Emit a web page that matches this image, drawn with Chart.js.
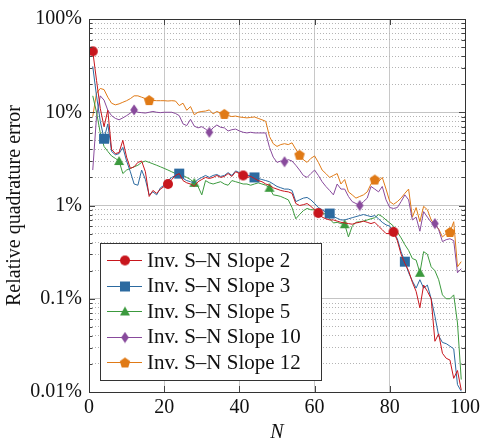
<!DOCTYPE html>
<html>
<head>
<meta charset="utf-8">
<script src="https://cdn.jsdelivr.net/npm/chart.js@4.4.0/dist/chart.umd.min.js"></script>
<style>
  html, body { margin: 0; padding: 0; background: #fff; }
</style>
</head>
<body>
<canvas id="chart" width="488" height="448"></canvas>
<script>
// N = 1..99 (number of modes)
const nValues = Array.from({ length: 99 }, (_, i) => i + 1);

// relative quadrature error in percent
const slope2 = [45, 22, 11, 7, 10.5, 4, 3.6, 3.7, 5, 3.3,
  2.5, 2.6, 2.9, 3.0, 2.3, 1.25, 1.45, 1.35, 1.5, 1.6,
  1.7, 1.9, 2.1, 2.2, 1.85, 1.75, 1.7, 1.6, 1.8, 1.9,
  2.0, 1.95, 2.0, 2.1, 2.0, 2.05, 2.2, 2.05, 2.3, 2.2,
  2.1, 2.0, 2.05, 1.95, 1.85, 1.8, 1.7, 1.65, 1.55, 1.5,
  1.45, 1.42, 1.4, 1.35, 1.05, 1.0, 1.02, 1.05, 0.98, 0.9,
  0.83, 0.75, 0.72, 0.7, 0.7, 0.68, 0.66, 0.65, 0.64, 0.63,
  0.65, 0.66, 0.68, 0.66, 0.64, 0.66, 0.6, 0.55, 0.5, 0.5,
  0.52, 0.42, 0.3, 0.24, 0.2, 0.15, 0.12, 0.08, 0.14, 0.12,
  0.1, 0.035, 0.042, 0.026, 0.023, 0.022, 0.014, 0.017, 0.0105];

const slope3 = [31, 15, 8, 5.2, 7.5, 3.8, 3.5, 3.6, 4.2, 3.0,
  2.3, 1.7, 1.65, 2.4, 1.9, 1.3, 1.4, 1.3, 1.55, 1.65,
  1.85, 2.0, 2.1, 2.2, 1.95, 1.85, 1.8, 1.75, 1.9, 2.0,
  2.1, 2.0, 2.1, 2.15, 2.05, 2.1, 2.25, 2.1, 2.35, 2.25,
  2.2, 2.1, 2.1, 2.0, 1.95, 1.9, 1.85, 1.8, 1.7, 1.6,
  1.55, 1.5, 1.5, 1.45, 1.1, 1.15, 1.2, 1.22, 1.15, 1.05,
  0.95, 0.9, 0.85, 0.82, 0.76, 0.73, 0.7, 0.7, 0.72, 0.74,
  0.76, 0.78, 0.8, 0.78, 0.76, 0.78, 0.72, 0.66, 0.62, 0.6,
  0.52, 0.44, 0.32, 0.25, 0.19, 0.155, 0.13, 0.16, 0.13, 0.14,
  0.1, 0.065, 0.04, 0.034, 0.033, 0.031, 0.029, 0.012, 0.0102];

const slope5 = [15, 10, 6, 4.3, 3.8, 3.4, 3.2, 3.0, 2.2, 2.4,
  2.5, 2.6, 2.7, 2.9, 3.0, 2.9, 2.8, 2.7, 2.6, 2.5,
  2.4, 2.3, 2.2, 2.15, 2.1, 2.0, 1.9, 1.75, 1.6, 1.3,
  1.85, 1.75, 1.7, 1.75, 1.8, 1.7, 1.65, 1.85, 1.8, 1.75,
  1.7, 1.7, 1.65, 1.7, 1.75, 1.7, 1.65, 1.55, 1.3, 1.28,
  1.25, 1.2, 1.15, 0.95, 0.72, 0.8, 0.88, 0.93, 0.9, 0.9,
  0.88, 0.84, 0.8, 0.72, 0.65, 0.66, 0.64, 0.63, 0.46, 0.6,
  0.66, 0.67, 0.68, 0.7, 0.72, 0.74, 0.8, 0.76, 0.7, 0.65,
  0.6, 0.52, 0.45, 0.38, 0.33, 0.27, 0.26, 0.19, 0.32, 0.3,
  0.22, 0.2, 0.16, 0.11, 0.1, 0.1, 0.11, 0.055, 0.0136];

const slope10 = [2.4, 9, 15, 13.5, 10.5, 9.2, 8.6, 8.3, 8.7, 9.2,
  9.8, 10.6, 10, 9.9, 9.8, 10, 10.2, 10, 9.9, 10,
  10, 10, 9.7, 9.2, 7.5, 7.2, 8.4, 7.1, 6.8, 7,
  6.6, 6.1, 6.8, 7.3, 6.9, 6.8, 6.3, 6.5, 6.6, 6.3,
  6.1, 6.0, 6.1, 6.0, 6.0, 6.0, 6.0, 4.2, 3.3, 2.9,
  3.0, 2.95, 3.1, 3.0, 2.7, 2.4, 2.1, 2.0, 2.2, 2.4,
  2.1, 1.8, 1.6, 1.45, 1.3, 1.7, 1.5, 1.5, 1.25, 1.1,
  1.05, 1.0, 1.1, 1.2, 1.6, 1.5, 1.4, 1.6, 1.15, 0.95,
  0.93, 0.95, 1.1, 1.3, 1.15, 0.7, 0.75, 0.53, 0.86, 0.75,
  0.66, 0.64, 0.55, 0.41, 0.43, 0.44, 0.42, 0.19, 0.21];

const slope12 = [9, 16, 18, 17.5, 14.5, 12.5, 12, 12.3, 12.8, 13.3,
  14, 15, 15, 14.5, 14, 13.5, 13.4, 13.3, 13.3, 13.3,
  13.2, 13.3, 13.2, 11.8, 12.5, 10.5, 11.5, 9.4, 10, 10.2,
  10.3, 10.6, 9.6, 10.2, 9.8, 9.6, 9.2, 9.0, 9.1, 8.9,
  8.8, 8.7, 8.8, 8.9, 8.6, 8.3, 8.0, 5.5, 4.6, 4.3,
  4.5, 4.6, 4.5, 4.7, 4.0, 3.5, 3.1, 2.9, 3.2, 3.4,
  2.9, 2.4, 2.2, 2.0, 2.1, 2.2, 1.7, 1.9, 1.4, 1.3,
  1.2, 1.25, 1.3, 1.4, 1.7, 1.9, 1.8, 2.0, 1.5, 1.1,
  1.03, 1.1, 1.2, 1.35, 1.5, 0.75, 0.95, 0.67, 0.98, 0.9,
  0.7, 0.62, 0.56, 0.46, 0.5, 0.52, 0.67, 0.22, 0.25];

const seriesNames = ['Inv. S\u2013N Slope 2', 'Inv. S\u2013N Slope 3', 'Inv. S\u2013N Slope 5',
  'Inv. S\u2013N Slope 10', 'Inv. S\u2013N Slope 12'];

const xTicks = [0, 20, 40, 60, 80, 100];
const yDecades = [0.01, 0.1, 1, 10, 100];
const yTickLabels = ['0.01%', '0.1%', '1%', '10%', '100%'];

const FONT = "'Liberation Serif', 'DejaVu Serif', serif";

// every decade plus the minor 2..9 steps
const yTickValues = [];
yDecades.forEach((d, i) => {
    if (i === yDecades.length - 1) { yTickValues.push(d); return; }
    for (let m = 1; m <= 9; m++) yTickValues.push(d * m);
});

function decadeIndex(v) {
    return yDecades.findIndex(d => Math.abs(v - d) / d < 1e-6);
}

// pgfplots-like marks drawn on small canvases
function makeMarker(shape, color) {
    const size = 12;
    const c = document.createElement('canvas');
    c.width = size; c.height = size;
    const g = c.getContext('2d');
    const m = size / 2;
    g.fillStyle = color;
    g.beginPath();
    if (shape === 'circle') {
        g.arc(m, m, 5, 0, Math.PI * 2);
    } else if (shape === 'square') {
        g.rect(1, 1, 10, 10);
    } else if (shape === 'triangle') {
        g.moveTo(m, 1); g.lineTo(m + 5, 10); g.lineTo(m - 5, 10);
    } else if (shape === 'diamond') {
        g.moveTo(m, 0.5); g.lineTo(m + 3.8, m); g.lineTo(m, size - 0.5); g.lineTo(m - 3.8, m);
    } else if (shape === 'pentagon') {
        for (let k = 0; k < 5; k++) {
            const a = -Math.PI / 2 + k * 2 * Math.PI / 5;
            const px = m + 5.5 * Math.cos(a), py = m + 0.5 + 5.5 * Math.sin(a);
            if (k === 0) g.moveTo(px, py); else g.lineTo(px, py);
        }
    }
    g.closePath();
    g.fill();
    return c;
}

const colors = ['#c8161d', '#2c6aa0', '#3c9a3e', '#884a9c', '#e07a16'];
const shapes = ['circle', 'square', 'triangle', 'diamond', 'pentagon'];
const markPhase = [0, 3, 7, 11, 15];
const allSeries = [slope2, slope3, slope5, slope10, slope12];

const datasets = allSeries.map((vals, i) => {
    const marker = makeMarker(shapes[i], colors[i]);
    return {
        label: seriesNames[i],
        data: vals.map((v, j) => ({ x: nValues[j], y: v })),
        borderColor: colors[i],
        backgroundColor: colors[i],
        borderWidth: 1,
        tension: 0,
        fill: false,
        pointStyle: marker,
        marker: marker,
        pointRadius: ctx => (ctx.dataIndex % 20 === markPhase[i] ? 5 : 0),
        pointHoverRadius: 0
    };
});

// legend box inside the plot, lower left
const insideLegend = {
    id: 'insideLegend',
    afterDraw(chart) {
        const ctx = chart.ctx;
        const area = chart.chartArea;
        const x0 = area.left + 11, y0 = area.bottom - 149, w = 221, h = 137;
        ctx.save();
        ctx.fillStyle = '#fff';
        ctx.fillRect(x0, y0, w, h);
        ctx.strokeStyle = '#333';
        ctx.lineWidth = 1;
        ctx.strokeRect(x0 + 0.5, y0 + 0.5, w, h);
        ctx.font = '21px ' + FONT;
        ctx.textBaseline = 'middle';
        ctx.textAlign = 'left';
        chart.data.datasets.forEach((ds, i) => {
            const cy = y0 + 17 + i * 25.5;
            ctx.strokeStyle = ds.borderColor;
            ctx.beginPath();
            ctx.moveTo(x0 + 7, Math.round(cy) + 0.5);
            ctx.lineTo(x0 + 42, Math.round(cy) + 0.5);
            ctx.stroke();
            ctx.drawImage(ds.marker, x0 + 25 - 6, Math.round(cy) - 5.5);
            ctx.fillStyle = '#111';
            ctx.fillText(ds.label, x0 + 47, cy + 1);
        });
        ctx.restore();
    }
};

// axis frame and inward ticks
const frameTicks = {
    id: 'frameTicks',
    afterDatasetsDraw(chart) {
        const ctx = chart.ctx;
        const a = chart.chartArea;
        const ys = chart.scales.y, xs = chart.scales.x;
        ctx.save();
        ctx.strokeStyle = '#444';
        ctx.lineWidth = 1;
        ctx.beginPath();
        yTickValues.forEach(v => {
            const py = Math.round(ys.getPixelForValue(v)) + 0.5;
            const len = decadeIndex(v) >= 0 ? 6 : 3.5;
            ctx.moveTo(a.left, py); ctx.lineTo(a.left + len, py);
            ctx.moveTo(a.right, py); ctx.lineTo(a.right - len, py);
        });
        xTicks.forEach(v => {
            const px = Math.round(xs.getPixelForValue(v)) + 0.5;
            ctx.moveTo(px, a.bottom); ctx.lineTo(px, a.bottom - 6);
            ctx.moveTo(px, a.top); ctx.lineTo(px, a.top + 6);
        });
        ctx.stroke();
        ctx.strokeStyle = '#333';
        ctx.strokeRect(Math.round(a.left) + 0.5, Math.round(a.top) + 0.5,
            Math.round(a.right - a.left), Math.round(a.bottom - a.top));
        ctx.restore();
    }
};

new Chart(document.getElementById('chart'), {
    type: 'line',
    data: { datasets: datasets },
    plugins: [frameTicks, insideLegend],
    options: {
        responsive: false,
        animation: false,
        events: [],
        layout: { padding: { left: 0, top: 15, right: 23, bottom: 0 } },
        plugins: { legend: { display: false }, tooltip: { enabled: false } },
        scales: {
            x: {
                type: 'linear',
                min: 0,
                max: 100,
                afterBuildTicks: scale => { scale.ticks = xTicks.map(v => ({ value: v })); },
                afterFit: scale => { scale.height = 56; },
                ticks: { color: '#111', font: { family: FONT, size: 20 }, padding: 4, maxRotation: 0, autoSkip: false },
                grid: { color: '#c8c8c8', lineWidth: 1, drawTicks: false },
                border: { display: false },
                title: {
                    display: true,
                    text: 'N',
                    color: '#111',
                    font: { family: FONT, size: 20, style: 'italic' },
                    padding: { top: 0, bottom: 3 }
                }
            },
            y: {
                type: 'logarithmic',
                min: 0.01,
                max: 100,
                afterBuildTicks: scale => { scale.ticks = yTickValues.map(v => ({ value: v })); },
                afterFit: scale => { scale.width = 89; },
                ticks: {
                    color: '#111',
                    font: { family: FONT, size: 20 },
                    padding: 7,
                    autoSkip: false,
                    callback: v => {
                        const k = decadeIndex(v);
                        return k >= 0 ? yTickLabels[k] : '';
                    }
                },
                grid: {
                    drawTicks: false,
                    lineWidth: 1,
                    color: ctx => (ctx.tick && decadeIndex(ctx.tick.value) >= 0 ? '#c4c4c4' : '#b4b4b4')
                },
                border: {
                    display: false,
                    dash: ctx => (ctx.tick && decadeIndex(ctx.tick.value) < 0 ? [1, 2] : [])
                },
                title: {
                    display: true,
                    text: 'Relative quadrature error',
                    color: '#111',
                    font: { family: FONT, size: 20 },
                    padding: { top: 3, bottom: 0 }
                }
            }
        }
    }
});
</script>
</body>
</html>
